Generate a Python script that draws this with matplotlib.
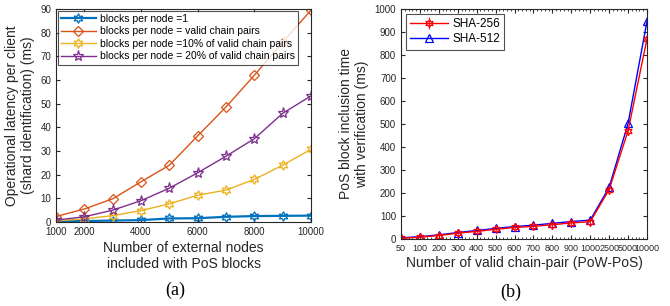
import matplotlib

matplotlib.use("Agg")
import matplotlib.pyplot as plt
from matplotlib.ticker import AutoMinorLocator

# ── Data: panel (a) ───────────────────────────────────────────────────
nodes = [1000, 2000, 3000, 4000, 5000, 6000, 7000, 8000, 9000, 10000]
lat_one = [0.3, 0.4, 0.6, 0.8, 1.5, 1.6, 2.2, 2.5, 2.6, 2.7]
lat_valid = [2.3, 5.5, 9.8, 17.0, 24.0, 36.4, 48.6, 62.0, 76.0, 89.5]
lat_10pct = [0.5, 1.3, 2.7, 4.8, 7.7, 11.3, 13.5, 18.0, 24.0, 30.7]
lat_20pct = [0.8, 2.2, 5.0, 9.0, 14.3, 20.8, 27.8, 35.2, 45.9, 53.3]
a_xticks = [1000, 2000, 4000, 6000, 8000, 10000]

# ── Data: panel (b) ───────────────────────────────────────────────────
pairs = ["50", "100", "200", "300", "400", "500", "600", "700", "800",
         "900", "1000", "2500", "5000", "10000"]
sha256 = [3, 8, 15, 25, 33, 42, 50, 55, 62, 70, 75, 215, 471, 871]
sha256_err = [5, 5, 6, 6, 7, 7, 7, 7, 8, 8, 8, 8, 10, 10]
sha512 = [5, 10, 18, 28, 37, 46, 54, 60, 68, 76, 82, 225, 503, 947]

blue = "#0072BD"
orange = "#D95319"
yellow = "#EDB120"
purple = "#7E2F8E"
ink = "#262626"
hexagram = (6, 1, 0)  # MATLAB-style six-pointed star

plt.rcParams["font.family"] = ["Liberation Sans", "DejaVu Sans"]

fig = plt.figure(figsize=(6.70, 3.06), dpi=100)
ax1 = fig.add_axes([0.0836, 0.2745, 0.3806, 0.6961])
ax2 = fig.add_axes([0.5985, 0.219, 0.3672, 0.7516])

# ── Panel (a) ─────────────────────────────────────────────────────────
ax1.plot(nodes, lat_one, color=blue, marker=hexagram, label="blocks per node =1",
         linewidth=1.6, markerfacecolor="none", markersize=7,
         markeredgewidth=0.9)
ax1.plot(nodes, lat_valid, color=orange, marker="D",
         label="blocks per node = valid chain pairs",
         markerfacecolor="none", markersize=5, linewidth=1.0,
         markeredgewidth=0.9)
ax1.plot(nodes, lat_10pct, color=yellow, marker=hexagram,
         label="blocks per node =10% of valid chain pairs",
         markerfacecolor="none", markersize=7, linewidth=1.0,
         markeredgewidth=0.9)
ax1.plot(nodes, lat_20pct, color=purple, marker="*",
         label="blocks per node = 20% of valid chain pairs",
         markerfacecolor="none", markersize=8, linewidth=1.0,
         markeredgewidth=0.9)

ax1.set_xlim(1000, 10000)
ax1.set_ylim(0, 90)
ax1.set_xticks(a_xticks)
ax1.set_yticks(range(0, 91, 10))
ax1.tick_params(direction="in", top=True, right=True, labelsize=7,
                colors=ink, length=3)
ax1.set_xlabel("Number of external nodes\nincluded with PoS blocks",
               fontsize=10, color=ink, labelpad=3)
ax1.set_ylabel("Operational latency per client\n(shard identification) (ms)",
               fontsize=10, color=ink, labelpad=4)
leg1 = ax1.legend(loc="upper left", fontsize=7.5, frameon=True, fancybox=False,
                  edgecolor=ink, borderpad=0.3, labelspacing=0.25,
                  handlelength=3.4, handletextpad=0.4, borderaxespad=0.15,
                  numpoints=1)
leg1.get_frame().set_linewidth(0.8)

# ── Panel (b) ─────────────────────────────────────────────────────────
pos = list(range(len(pairs)))
h256 = ax2.errorbar(pos, sha256, yerr=sha256_err, color="red", marker=hexagram,
                    markerfacecolor="none", markersize=6, linewidth=1.0,
                    markeredgewidth=0.9, elinewidth=0.6, capsize=0,
                    label="SHA-256")
h512, = ax2.plot(pos, sha512, color="blue", marker="^", markerfacecolor="none",
                 markersize=6, linewidth=1.0, markeredgewidth=0.9,
                 label="SHA-512")

ax2.set_xlim(0, len(pairs) - 1)
ax2.set_ylim(0, 1000)
ax2.set_xticks(pos)
ax2.set_xticklabels(pairs)
ax2.set_yticks(range(0, 1001, 100))
ax2.xaxis.set_minor_locator(AutoMinorLocator(5))
ax2.tick_params(which="both", direction="in", top=True, right=True,
                labelsize=7, colors=ink, length=3)
ax2.tick_params(axis="x", labelsize=6.5)
ax2.tick_params(which="minor", length=1.5)
ax2.set_xlabel("Number of valid chain-pair (PoW-PoS)", fontsize=10,
               color=ink, labelpad=2)
ax2.set_ylabel("PoS block inclusion time\nwith verification (ms)",
               fontsize=10, color=ink, labelpad=4)
leg2 = ax2.legend([h256, h512], ["SHA-256", "SHA-512"], loc="upper left",
                  fontsize=8.5, frameon=True, fancybox=False, edgecolor=ink,
                  borderpad=0.35, labelspacing=0.3, handlelength=3.2,
                  handletextpad=0.4, borderaxespad=0.4)
leg2.get_frame().set_linewidth(0.8)

for ax in (ax1, ax2):
    for sp in ax.spines.values():
        sp.set_color(ink)
        sp.set_linewidth(0.8)

fig.text(0.261, 0.052, "(a)", fontsize=13, ha="center", va="center",
         family=["Liberation Serif", "DejaVu Serif"])
fig.text(0.763, 0.045, "(b)", fontsize=13, ha="center", va="center",
         family=["Liberation Serif", "DejaVu Serif"])

fig.savefig("out.png", dpi=100)
